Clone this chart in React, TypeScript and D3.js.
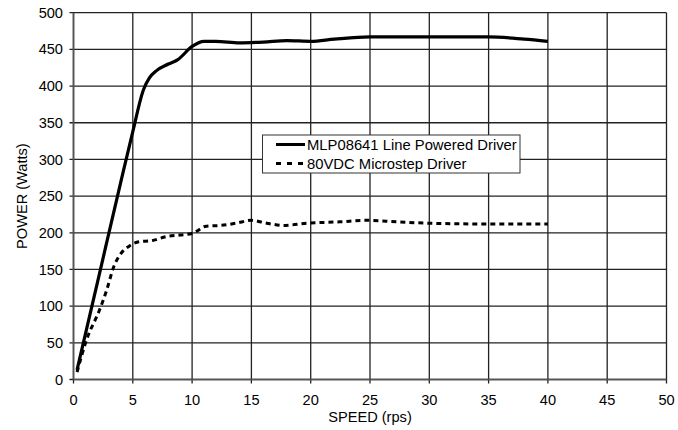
import React from "react";
import * as d3 from "d3";

const xTicks = [0, 5, 10, 15, 20, 25, 30, 35, 40, 45, 50];
const yTicks = [0, 50, 100, 150, 200, 250, 300, 350, 400, 450, 500];

const lineSpeed = [0.3, 2.0, 4.0, 5.0, 5.9, 6.4, 7.0, 8.0, 8.8, 10.0, 11.0, 12.0, 14.0, 16.0, 18.0, 20.0, 22.0, 25.0, 30.0, 35.0, 38.0, 40.0];
const linePower = [13, 131, 270, 338, 395, 411, 421, 430, 436, 454, 461, 461, 459, 460, 462, 461, 464, 467, 467, 467, 464, 461];

const stepSpeed = [0.3, 1.1, 2.2, 2.8, 3.4, 3.8, 4.8, 5.6, 6.5, 7.9, 9.0, 10.0, 11.2, 12.4, 13.7, 15.0, 16.3, 17.7, 19.7, 22.5, 24.7, 27.3, 30.0, 35.0, 40.0];
const stepPower = [10, 54, 95, 122, 154, 167, 183, 188, 189, 195, 197, 199, 209, 210, 213, 217, 213, 210, 213, 215, 217, 215, 213, 212, 212];

const seriesNames = ["MLP08641 Line Powered Driver", "80VDC Microstep Driver"];

export default function App() {
  const W = 678, H = 430;
  const x0 = 73.5, x1 = 666.5, y0 = 379.5, y1 = 12.7;
  const x = d3.scaleLinear().domain([0, 50]).range([x0, x1]);
  const y = d3.scaleLinear().domain([0, 500]).range([y0, y1]);
  const line = d3.line<[number, number]>().x(d => x(d[0])).y(d => y(d[1])).curve(d3.curveMonotoneX);
  const solid = lineSpeed.map((s, i) => [s, linePower[i]] as [number, number]);
  const dashed = stepSpeed.map((s, i) => [s, stepPower[i]] as [number, number]);
  const font = "'Liberation Sans', Arial, Helvetica, sans-serif";
  const fs = 14.6;

  return (
    <svg width={W} height={H} style={{ position: "absolute", left: 0, top: 0, background: "#fff" }} fontFamily={font}>
      <rect x={0} y={0} width={W} height={H} fill="#fff" />
      {xTicks.map(t => (
        <line key={"gx" + t} x1={x(t)} x2={x(t)} y1={y1} y2={y0 + 4} stroke="#222" strokeWidth={1.3} />
      ))}
      {yTicks.map(t => (
        <line key={"gy" + t} x1={x0 - 4} x2={x1} y1={y(t)} y2={y(t)} stroke="#222" strokeWidth={1.3} />
      ))}
      <line x1={x0} x2={x0} y1={y1} y2={y0} stroke="#555" strokeWidth={1.7} />
      <line x1={x0} x2={x1} y1={y0} y2={y0} stroke="#555" strokeWidth={1.7} />
      {yTicks.map(t => (
        <text key={"ly" + t} x={63} y={y(t)} dy="0.35em" textAnchor="end" fontSize={fs} fill="#000">{t}</text>
      ))}
      {xTicks.map(t => (
        <text key={"lx" + t} x={x(t)} y={405} textAnchor="middle" fontSize={fs} fill="#000">{t}</text>
      ))}
      <text x={(x0 + x1) / 2} y={422} textAnchor="middle" fontSize={fs} fill="#000">SPEED (rps)</text>
      <text transform={`translate(26.5,${(y0 + y1) / 2}) rotate(-90)`} textAnchor="middle" fontSize={fs} fill="#000">POWER (Watts)</text>
      <path d={line(dashed) || ""} fill="none" stroke="#000" strokeWidth={3} strokeDasharray="5,4" />
      <path d={line(solid) || ""} fill="none" stroke="#000" strokeWidth={3.2} strokeLinejoin="round" />
      <rect x={262.5} y={135} width={257.5} height={38} fill="#fff" stroke="#333" strokeWidth={1} />
      <line x1={276} x2={305} y1={144.5} y2={144.5} stroke="#000" strokeWidth={3} />
      <line x1={276} x2={305} y1={163.5} y2={163.5} stroke="#000" strokeWidth={3} strokeDasharray="5,6" />
      <text x={307} y={149.5} fontSize={14.8} fill="#000">{seriesNames[0]}</text>
      <text x={307} y={168.5} fontSize={14.8} fill="#000">{seriesNames[1]}</text>
    </svg>
  );
}
